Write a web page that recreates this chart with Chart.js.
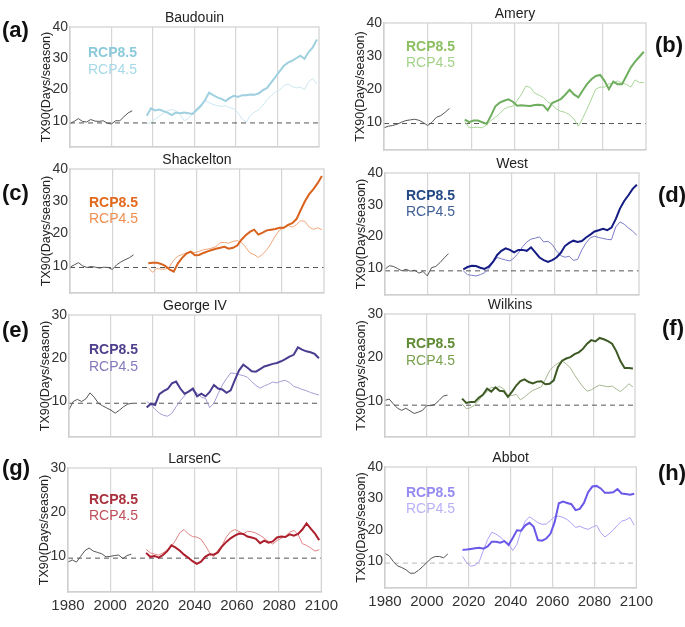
<!DOCTYPE html>
<html>
<head>
<meta charset="utf-8">
<script src="https://cdn.jsdelivr.net/npm/chart.js@4.4.0/dist/chart.umd.min.js"></script>
<style>
  body { margin: 0; background: #fff; }
  #wrap { position: relative; width: 685px; height: 627px; overflow: hidden; font-family: 'Liberation Sans', Arial, sans-serif; }
  #wrap canvas { position: absolute; }
  .tag { position: absolute; font-weight: bold; font-size: 22px; color: #111; line-height: 1; }
</style>
</head>
<body>
<div id="wrap"></div>
<script>
// x categories
const histYears = [1980, 1982, 1984, 1986, 1988, 1990, 1992, 1994, 1996, 1998, 2000, 2002, 2004, 2006, 2008, 2010];
const rcpYears = [2017, 2019, 2021, 2023, 2025, 2027, 2029, 2031, 2033, 2035, 2037, 2039, 2041, 2043,
  2045, 2047, 2049, 2051, 2053, 2055, 2057, 2059, 2061, 2063, 2065, 2067, 2069, 2071, 2073, 2075,
  2077, 2079, 2081, 2083, 2085, 2087, 2089, 2091, 2093, 2095, 2097, 2099];
const xTicks = [1980, 2000, 2020, 2040, 2060, 2080, 2100];
const yTicks40 = [10, 20, 30, 40];
const yTicks30 = [10, 20, 30];

const regions = ['Baudouin', 'Amery', 'Shackelton', 'West', 'George IV', 'Wilkins', 'LarsenC', 'Abbot'];
const thresholds = [9.3, 9.6, 9.5, 9.2, 9.6, 9.1, 9.5, 9.5];

// Baudouin
const baudouinHist = [9.1, 9.8, 10.7, 9.8, 9.6, 10.4, 9.9, 9.8, 10.0, 9.2, 9.0, 10.0, 10.0, 11.3, 12.5, 13.2];
const baudouin85 = [11.6, 14.0, 13.3, 13.6, 13.1, 12.6, 11.8, 12.6, 12.4, 12.6, 12.4, 12.2, 13.5, 14.8, 16.5, 19.0, 18.2, 17.5, 17.0, 16.3, 17.3,
  18.0, 17.6, 18.2, 18.2, 18.4, 18.3, 18.8, 19.8, 20.5, 22.3, 24.0, 25.8, 27.5, 28.6, 29.2, 30.0, 30.8, 29.8, 32.0, 33.5, 36.0];
const baudouin45 = [9.0, 9.5, 10.5, 11.5, 12.5, 13.2, 13.6, 13.2, 12.2, 10.0, 10.8, 12.0, 13.0, 14.2, 16.5, 15.8, 15.2, 14.8, 14.6, 14.8, 14.2,
  13.8, 12.5, 10.5, 9.6, 11.8, 12.8, 13.5, 15.0, 16.8, 18.0, 19.2, 19.8, 21.2, 21.8, 21.0, 20.5, 20.8, 20.0, 22.5, 23.5, 21.8];

// Amery
const ameryHist = [8.3, 8.8, 9.0, 9.4, 10.0, 10.5, 10.7, 10.9, 10.6, 9.9, 9.0, 10.0, 11.5, 12.0, 13.0, 14.2];
const amery85 = [10.8, 10.0, 10.5, 10.5, 10.0, 9.5, 12.0, 14.8, 15.9, 16.5, 16.9, 16.2, 15.0, 15.1, 15.0, 14.9, 15.2, 15.3, 15.1, 13.6, 15.8,
  16.4, 17.0, 18.3, 19.8, 18.4, 17.5, 19.6, 21.5, 23.0, 24.0, 24.3, 22.5, 20.0, 22.3, 21.5, 21.5, 24.0, 26.5, 28.3, 29.8, 31.3];
const amery45 = [10.2, 8.3, 8.4, 8.5, 8.3, 9.2, 10.5, 11.5, 12.6, 14.0, 14.6, 14.8, 16.5, 18.5, 21.0, 20.5, 18.8, 18.2, 17.5, 16.2, 15.2,
  14.0, 13.3, 13.0, 12.2, 11.0, 8.8, 11.2, 14.0, 17.0, 20.0, 20.6, 20.6, 21.6, 21.8, 22.5, 21.8, 21.5, 20.6, 22.8, 22.0, 22.0];

// Shackelton
const shackHist = [9.6, 10.3, 11.0, 10.0, 9.5, 9.8, 9.6, 9.3, 9.6, 9.5, 8.9, 10.3, 11.2, 11.9, 12.5, 13.4];
const shack85 = [10.8, 11.0, 11.0, 10.6, 10.0, 8.9, 8.2, 10.8, 12.5, 13.8, 14.4, 13.3, 13.4, 14.0, 14.5, 14.9, 15.3, 15.6, 15.9, 15.3, 15.6,
  16.3, 18.1, 19.5, 20.5, 21.2, 19.7, 20.3, 21.0, 21.2, 21.4, 21.8, 21.8, 22.7, 23.2, 24.5, 27.3, 30.0, 32.2, 33.8, 35.6, 37.8];
const shack45 = [9.5, 8.0, 9.2, 9.0, 9.0, 9.7, 11.8, 13.0, 13.5, 14.0, 14.5, 14.1, 14.5, 15.0, 15.2, 15.5, 16.0, 17.2, 17.3, 17.0, 17.6,
  17.8, 17.3, 15.8, 14.0, 13.5, 12.6, 13.6, 15.0, 17.0, 19.3, 21.1, 21.7, 22.5, 22.0, 22.8, 24.0, 23.8, 22.0, 21.3, 21.8, 21.2];

// West
const westHist = [9.7, 10.8, 10.6, 9.9, 9.2, 9.7, 9.1, 9.4, 8.5, 9.0, 7.6, 10.2, 10.6, 11.8, 13.3, 14.6];
const west85 = [9.7, 10.4, 10.8, 10.7, 10.2, 9.8, 10.5, 12.0, 14.2, 15.5, 16.3, 15.8, 15.0, 15.8, 15.8, 15.5, 16.6, 15.0, 13.4, 12.6, 12.0,
  12.6, 13.4, 14.8, 17.0, 18.0, 18.7, 18.3, 18.6, 19.7, 20.6, 21.6, 22.0, 22.4, 22.0, 22.8, 25.5, 28.8, 31.2, 33.0, 35.0, 36.3];
const west45 = [9.2, 8.0, 7.8, 7.6, 8.0, 8.6, 9.8, 11.8, 13.4, 13.0, 12.6, 12.3, 13.3, 14.8, 16.8, 18.3, 19.2, 19.5, 19.9, 18.3, 18.5,
  17.5, 15.5, 14.0, 13.5, 13.8, 12.5, 12.8, 15.8, 18.0, 19.6, 20.1, 19.7, 19.4, 19.1, 19.0, 23.0, 24.6, 23.9, 22.7, 21.7, 20.4];

// George IV
const georgeHist = [8.1, 10.0, 10.5, 10.0, 10.6, 12.0, 11.0, 9.6, 9.0, 8.5, 8.0, 7.3, 8.0, 8.8, 9.4, 9.6];
const george85 = [8.6, 9.5, 9.2, 11.7, 12.4, 12.9, 14.2, 14.6, 13.0, 11.8, 12.3, 13.0, 11.2, 11.8, 11.2, 12.2, 13.8, 13.0, 12.8, 12.0, 12.6,
  15.0, 17.2, 18.5, 17.8, 17.0, 16.9, 17.5, 18.1, 18.4, 18.7, 18.9, 19.3, 19.8, 20.4, 20.8, 22.5, 22.0, 21.6, 21.4, 21.0, 20.0];
const george45 = [10.0, 9.3, 8.2, 7.3, 6.8, 6.6, 7.3, 8.8, 10.2, 11.3, 12.5, 12.5, 12.0, 11.0, 10.7, 8.6, 9.6, 11.8, 13.8, 15.3, 16.6,
  16.5, 16.2, 16.0, 15.6, 14.6, 13.7, 13.1, 13.6, 14.0, 14.5, 14.3, 14.7, 14.9, 14.4, 13.5, 13.2, 12.8, 12.5, 12.1, 11.8, 11.5];

// Wilkins
const wilkinsHist = [10.2, 10.5, 9.4, 8.4, 7.9, 8.4, 7.8, 7.2, 7.5, 7.9, 9.0, 9.0, 9.3, 10.2, 11.2, 11.4];
const wilkins85 = [10.6, 9.6, 9.8, 9.8, 10.8, 11.5, 12.9, 12.2, 13.2, 12.4, 12.3, 11.0, 12.2, 13.6, 14.6, 15.0, 14.4, 14.1, 14.5, 14.6, 13.9,
  14.0, 14.8, 17.8, 19.3, 19.8, 20.1, 20.8, 21.2, 22.0, 23.2, 24.0, 23.7, 24.5, 24.2, 23.8, 23.2, 21.5, 19.2, 17.6, 17.6, 17.5];
const wilkins45 = [9.4, 8.3, 8.5, 9.1, 10.2, 11.4, 12.2, 13.2, 13.0, 13.4, 12.8, 11.3, 11.3, 11.6, 10.3, 11.0, 11.8, 12.5, 12.9, 13.3, 15.0,
  17.0, 18.0, 18.7, 19.2, 18.6, 17.6, 16.0, 14.6, 13.3, 12.3, 12.6, 13.2, 13.7, 13.5, 13.3, 13.5, 12.8, 12.2, 13.0, 14.0, 13.3];

// LarsenC
const larsenHist = [8.6, 9.1, 8.6, 9.9, 11.2, 11.8, 11.1, 10.8, 10.5, 9.8, 9.9, 10.1, 10.2, 9.4, 10.1, 10.4];
const larsen85 = [10.7, 9.8, 10.0, 9.6, 10.2, 11.1, 12.4, 11.9, 11.2, 10.3, 9.6, 8.8, 8.2, 8.7, 9.8, 10.4, 10.3, 10.8, 12.2, 13.2, 14.0,
  14.6, 15.1, 15.0, 14.4, 14.2, 13.9, 12.9, 13.5, 13.0, 13.3, 14.2, 14.4, 14.3, 14.9, 14.6, 15.0, 16.0, 17.4, 16.2, 15.1, 13.6];
const larsen45 = [11.5, 10.7, 10.4, 10.2, 10.7, 11.4, 12.2, 13.6, 15.3, 16.0, 15.0, 14.4, 14.3, 13.8, 12.4, 10.8, 9.8, 11.3, 12.4, 14.3, 15.5,
  16.0, 15.6, 15.0, 15.6, 15.5, 15.2, 14.7, 14.0, 13.3, 12.7, 13.5, 14.0, 14.5, 15.4, 15.8, 14.9, 12.8, 12.4, 11.8, 11.1, 11.4];

// Abbot
const abbotHist = [12.6, 11.8, 10.0, 8.6, 8.1, 7.4, 6.3, 6.3, 7.2, 8.4, 9.7, 11.0, 11.6, 11.6, 11.2, 12.4];
const abbot85 = [13.7, 13.8, 14.0, 14.2, 14.4, 14.1, 14.8, 16.3, 16.3, 16.0, 16.5, 15.3, 17.5, 19.9, 19.8, 21.5, 22.3, 21.0, 16.8, 16.6, 17.3,
  18.8, 22.5, 28.5, 29.0, 28.6, 28.2, 26.3, 26.7, 28.6, 32.0, 33.8, 34.0, 33.2, 31.8, 31.8, 32.0, 33.0, 31.6, 31.4, 31.2, 31.5];
const abbot45 = [11.6, 9.6, 8.5, 8.8, 10.0, 13.5, 17.0, 19.3, 18.7, 17.8, 16.6, 15.5, 13.5, 15.5, 19.8, 22.8, 24.2, 23.3, 22.3, 21.8, 21.9,
  23.0, 24.3, 24.4, 24.0, 23.3, 22.2, 20.8, 21.2, 20.6, 20.2, 20.9, 21.5, 19.2, 17.8, 18.8, 20.0, 21.5, 22.8, 23.2, 24.0, 21.5];

// panel setup: box = plot area [left, top, right, bottom] in page px
const panels = [
  { tag: '(a)', tagPos: [2, 19], box: [70, 27, 319, 147], ymax: 40, hist: baudouinHist, r85: baudouin85, r45: baudouin45,
    c85: '#9fd0e0', c45: '#cbe7f1', t85: '#8ccadb', t45: '#a6d9e8', leg: [18, 26, 43], dash: '#555' },
  { tag: '(b)', tagPos: [655, 34], box: [384, 23, 646, 150], ymax: 40, hist: ameryHist, r85: amery85, r45: amery45,
    c85: '#6eae5e', c45: '#a9d699', t85: '#8cc063', t45: '#a3d38a', leg: [22, 24, 40], dash: '#555' },
  { tag: '(c)', tagPos: [2, 182], box: [70, 169, 324, 293], ymax: 40, hist: shackHist, r85: shack85, r45: shack45,
    c85: '#d9621c', c45: '#f2a77a', t85: '#e2691e', t45: '#ee8e50', leg: [19, 34, 50], dash: '#555' },
  { tag: '(d)', tagPos: [658, 184], box: [385, 173, 639, 295], ymax: 40, hist: westHist, r85: west85, r45: west45,
    c85: '#141c84', c45: '#7c7cc8', t85: '#244985', t45: '#3f5f96', leg: [21, 23, 39], dash: '#555' },
  { tag: '(e)', tagPos: [2, 319], box: [69, 315, 321, 437], ymax: 30, hist: georgeHist, r85: george85, r45: george45,
    c85: '#4a3d8f', c45: '#a69cd4', t85: '#4f3f8c', t45: '#8678bb', leg: [20, 35, 52], dash: '#555' },
  { tag: '(f)', tagPos: [662, 317], box: [385, 314, 635, 437], ymax: 30, hist: wilkinsHist, r85: wilkins85, r45: wilkins45,
    c85: '#3d5a24', c45: '#a6b88e', t85: '#5f8b35', t45: '#79a14e', leg: [21, 30, 47], dash: '#555' },
  { tag: '(g)', tagPos: [2, 457], box: [68, 468, 323, 592], ymax: 30, hist: larsenHist, r85: larsen85, r45: larsen45,
    c85: '#ac1e2c', c45: '#e08686', t85: '#a9303d', t45: '#bf4e5a', leg: [21, 32, 48], dash: '#555', xlab: true },
  { tag: '(h)', tagPos: [658, 462], box: [385, 467, 638, 588], ymax: 40, hist: abbotHist, r85: abbot85, r45: abbot45,
    c85: '#6a58e8', c45: '#aca2f6', t85: '#968bf2', t45: '#b9b1f8', leg: [21, 26, 42], dash: '#bbb', xlab: true }
];

Chart.defaults.font.family = "'Liberation Sans', Arial, sans-serif";
Chart.defaults.color = '#333';

// frame around the plot, region name above it, colored legend text inside it
const panelDeco = {
  id: 'panelDeco',
  afterDraw(chart, args, opts) {
    const { ctx, chartArea: a } = chart;
    ctx.save();
    ctx.strokeStyle = '#d0d0d0';
    ctx.lineWidth = 1.2;
    ctx.strokeRect(a.left, a.top, a.right - a.left, a.bottom - a.top);
    ctx.textBaseline = 'middle';
    ctx.textAlign = 'center';
    ctx.font = "14px 'Liberation Sans', Arial, sans-serif";
    ctx.fillStyle = '#222';
    ctx.fillText(opts.name, (a.left + a.right) / 2, a.top - 8.5);
    ctx.textAlign = 'left';
    ctx.font = "bold 14px 'Liberation Sans', Arial, sans-serif";
    ctx.fillStyle = opts.t85;
    ctx.fillText('RCP8.5', a.left + opts.leg[0], a.top + opts.leg[1]);
    ctx.font = "14px 'Liberation Sans', Arial, sans-serif";
    ctx.fillStyle = opts.t45;
    ctx.fillText('RCP4.5', a.left + opts.leg[0], a.top + opts.leg[2]);
    ctx.restore();
  }
};

const wrap = document.getElementById('wrap');
const toXY = (xs, ys) => ys.map((v, i) => ({ x: xs[i], y: v }));

panels.forEach((p, i) => {
  const [L, T, R, B] = p.box;
  const cv = document.createElement('canvas');
  const w = 70 + (R - L) + 20, h = 30 + (B - T) + 40;
  cv.style.left = (L - 70) + 'px';
  cv.style.top = (T - 30) + 'px';
  cv.style.width = w + 'px';
  cv.style.height = h + 'px';
  cv.width = w; cv.height = h;
  wrap.appendChild(cv);

  const tag = document.createElement('div');
  tag.className = 'tag';
  tag.textContent = p.tag;
  tag.style.left = p.tagPos[0] + 'px';
  tag.style.top = p.tagPos[1] + 'px';
  wrap.appendChild(tag);

  const thr = thresholds[i];
  new Chart(cv, {
    type: 'line',
    data: {
      datasets: [
        { data: toXY(rcpYears, p.r85), borderColor: p.c85, borderWidth: 2 },
        { data: toXY(rcpYears, p.r45), borderColor: p.c45, borderWidth: 1 },
        { data: toXY(histYears, p.hist), borderColor: '#555', borderWidth: 1 },
        { data: [{ x: 1980, y: thr }, { x: 2100, y: thr }], borderColor: p.dash, borderWidth: 1, borderDash: [5, 4] }
      ]
    },
    options: {
      responsive: false,
      animation: false,
      events: [],
      elements: { point: { radius: 0 }, line: { tension: 0 } },
      layout: { padding: { top: 30, left: 0, right: 20, bottom: 0 } },
      plugins: {
        legend: { display: false },
        tooltip: { enabled: false },
        title: { display: false },
        panelDeco: { name: regions[i], leg: p.leg, t85: p.t85, t45: p.t45 }
      },
      scales: {
        x: {
          type: 'linear', min: 1980, max: 2100,
          afterBuildTicks: s => { s.ticks = xTicks.map(v => ({ value: v })); },
          afterFit: s => { s.height = 40; },
          ticks: { display: !!p.xlab, font: { size: 15 }, color: '#333', padding: 5, maxRotation: 0, callback: v => String(v) },
          grid: {
            drawTicks: false, lineWidth: 1.2,
            color: c => (c.tick && (c.tick.value === 1980 || c.tick.value === 2100)) ? 'rgba(0,0,0,0)' : '#d6d6d6'
          },
          border: { display: true, color: '#d0d0d0', width: 1.2 }
        },
        y: {
          min: p.ymax === 40 ? 1.6 : 1.8, max: p.ymax,
          afterBuildTicks: s => { s.ticks = (p.ymax === 40 ? yTicks40 : yTicks30).map(v => ({ value: v })); },
          afterFit: s => { s.width = 70; },
          ticks: { font: { size: 14 }, color: '#333', padding: 2 },
          grid: { display: false, drawTicks: false },
          border: { display: true, color: '#d0d0d0', width: 1.2 },
          title: { display: true, text: 'TX90(Days/season)', color: '#222', font: { size: 12.5 }, padding: { top: 39, bottom: 0 } }
        }
      }
    },
    plugins: [panelDeco]
  });
});
</script>
</body>
</html>
